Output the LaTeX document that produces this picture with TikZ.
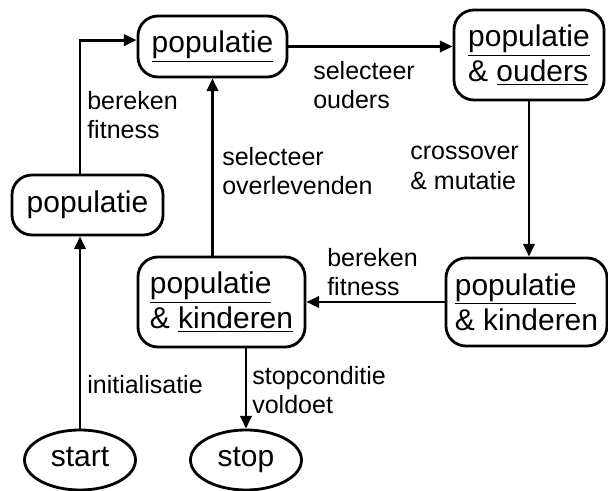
\documentclass[tikz,border=0pt]{standalone}
\usepackage{fontspec}
\setmainfont{Liberation Sans}
\usetikzlibrary{arrows.meta, shapes.geometric}

\begin{document}
\begin{tikzpicture}[
    x=0.025cm,
    y=-0.025cm,
    box/.style={draw, line width=2pt, rounded corners=0.5cm, align=left,
        inner sep=0pt, font=\fontsize{21.3}{25}\selectfont},
    oval/.style={draw, ellipse, line width=2pt, inner sep=0pt,
        minimum width=2.775cm, minimum height=1.5cm,
        text height=0.45cm, text depth=0.1cm,
        font=\fontsize{21.3}{25}\selectfont},
    lbl/.style={anchor=west, align=left, inner sep=0pt,
        font=\fontsize{17.8}{20.8}\selectfont},
    flow/.style={line width=2pt, -{Triangle[length=9pt, width=8pt]}}
]

% =========================================================
% KADER
% =========================================================

\useasboundingbox (0,0) rectangle (608,491);

% =========================================================
% TOESTANDEN
% =========================================================

\node[oval] (start) at (80,460) {start};
\node[oval] (stop)  at (246,460) {stop};

\node[box, minimum width=3.775cm, minimum height=1.5cm]
    (lpop) at (87.5,205) {populatie};

\node[box, minimum width=3.725cm, minimum height=1.525cm]
    (top) at (212.5,46.5) {\underline{populatie}};

\node[box, minimum width=3.75cm, minimum height=2.25cm]
    (ouders) at (529,55) {\underline{populatie}\\ \& \underline{ouders}};

\node[box, minimum width=4.025cm, minimum height=2.2cm]
    (rkind) at (526.5,302) {\underline{populatie}\\ \& kinderen};

\node[box, minimum width=4.175cm, minimum height=2.25cm]
    (mkind) at (221.5,302) {\underline{populatie}\\ \& \underline{kinderen}};

% =========================================================
% OVERGANGEN
% =========================================================

% Start -> populatie
\draw[flow] (start) -- (start |- lpop.south);

% populatie -> populatie (boven)
\draw[flow] (start |- lpop.north) |- ([yshift=0.16cm]top.west);

% populatie -> ouders
\draw[flow] (top.east) -- (top.east -| ouders.west);

% ouders -> kinderen
\draw[flow] (ouders.south) -- (ouders.south |- rkind.north);

% kinderen -> kinderen
\draw[flow] (rkind.west) -- (mkind.east);

% kinderen -> populatie
\draw[flow] (top.south |- mkind.north) -- (top.south);

% kinderen -> stop
\draw[flow] (stop.north |- mkind.south) -- (stop.north);

% =========================================================
% LABELS
% =========================================================

\node[lbl] (lfit1) at (87,115)  {bereken\\fitness};
\node[lbl] (lsel)  at (313,85)  {selecteer\\ouders};
\node[lbl] (lover) at (222,171) {selecteer\\overlevenden};
\node[lbl] (lcros) at (410,168) {crossover\\\& mutatie};
\node[lbl] (lfit2) at (327,272) {bereken\\fitness};
\node[lbl] (linit) at (87,385)  {initialisatie};
\node[lbl] (lstop) at (252,390) {stopconditie\\voldoet};

\end{tikzpicture}
\end{document}
